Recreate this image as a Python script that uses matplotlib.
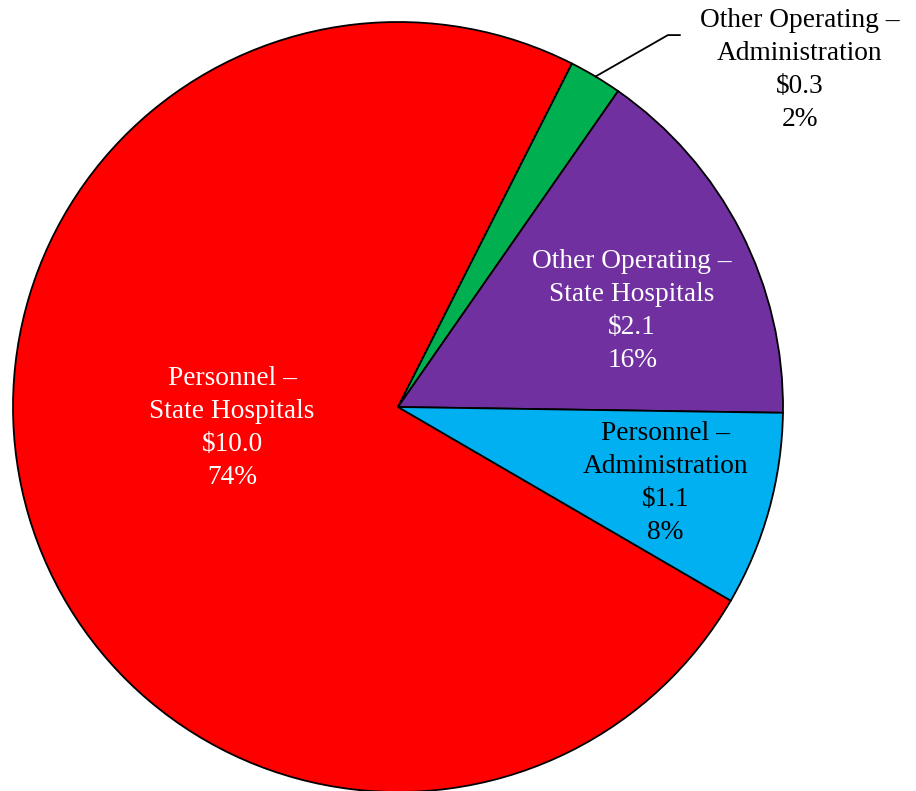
import numpy as np
import matplotlib.pyplot as plt

plt.rcParams['font.family'] = ['Liberation Serif', 'DejaVu Serif']

labels = ["Personnel \u2013\nState Hospitals", "Other Operating \u2013\nAdministration",
          "Other Operating \u2013\nState Hospitals", "Personnel \u2013\nAdministration"]
amounts = [10.0, 0.3, 2.1, 1.1]
colors = ["#FF0000", "#00B050", "#7030A0", "#00B0F0"]
text_colors = ["white", "black", "white", "black"]

total = sum(amounts)

fig = plt.figure(figsize=(9.16, 7.91), dpi=100)
ax = fig.add_axes([0, 0, 1, 1])

wedges, _ = ax.pie(amounts, colors=colors, startangle=-30.2, counterclock=False,
                   radius=1, center=(0, 0),
                   wedgeprops=dict(edgecolor="black", linewidth=1.3))

# label spots in units of the pie radius
label_pos = [(-0.431, -0.055), (1.044, 0.875), (0.608, 0.249), (0.694, -0.197)]

for i, (lab, amt) in enumerate(zip(labels, amounts)):
    txt = "{}\n${:.1f}\n{:.0f}%".format(lab, amt, amt / total * 100)
    x, y = label_pos[i]
    ax.text(x, y, txt, ha="center", va="center", color=text_colors[i],
            fontsize=19.7, linespacing=1.42)

# leader line for the small slice
w = wedges[1]
mid = np.deg2rad((w.theta1 + w.theta2) / 2)
edge = (np.cos(mid), np.sin(mid))
ax.plot([edge[0], 0.701, 0.732], [edge[1], 0.966, 0.966], color="black", lw=1.3)

ax.set_xlim(-398 / 385, (916 - 398) / 385)
ax.set_ylim(-(791 - 407) / 385, 407 / 385)
ax.set_aspect("equal")
ax.axis("off")

fig.savefig("out.png", dpi=100)
